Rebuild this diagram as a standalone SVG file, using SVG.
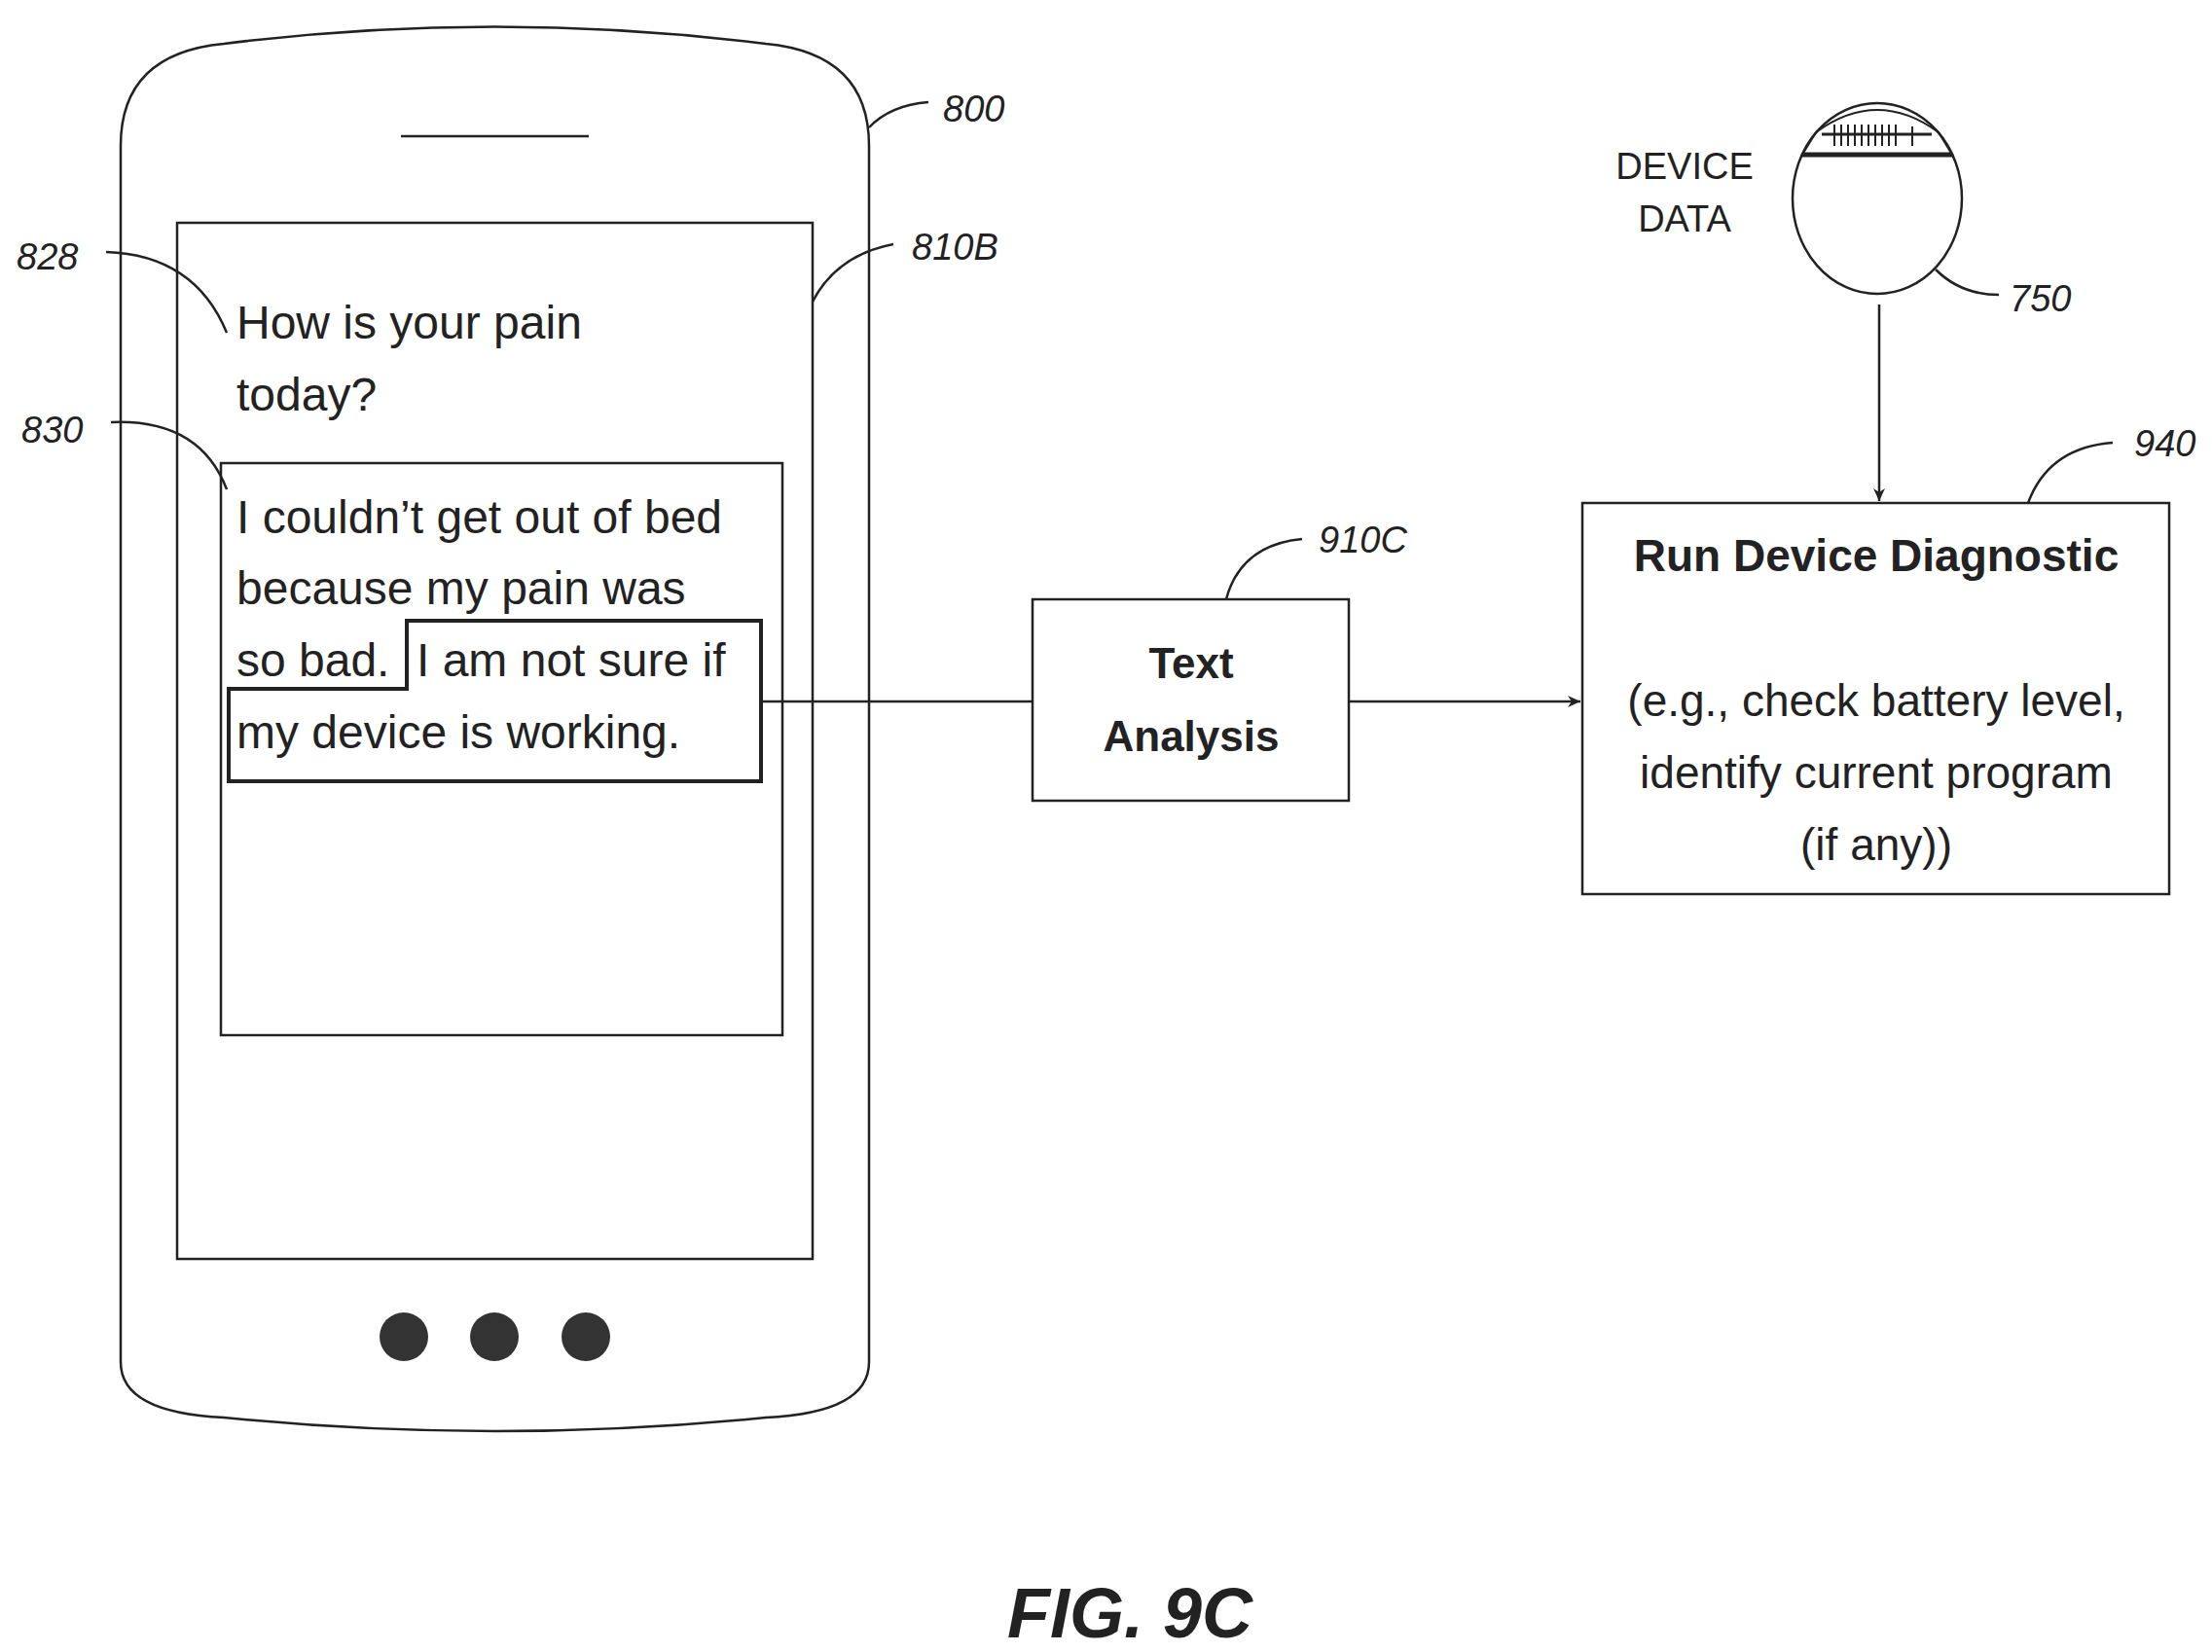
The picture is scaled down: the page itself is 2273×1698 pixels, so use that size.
<svg xmlns="http://www.w3.org/2000/svg" width="2273" height="1698" viewBox="0 0 2273 1698">
<style>
.l{fill:none;stroke:#222;stroke-width:2.5}
.t{font-family:"Liberation Sans",Arial,sans-serif;fill:#222}
.r{font-family:"Liberation Sans",Arial,sans-serif;font-style:italic;font-size:38px;fill:#222}
.b{font-weight:bold}
</style>
<defs><marker id="a" markerWidth="14" markerHeight="14" refX="13" refY="7" orient="auto" markerUnits="userSpaceOnUse"><path d="M0,1 L13,7 L0,13 L4,7 Z" fill="#222"/></marker></defs>
<rect width="2273" height="1698" fill="#fff"/>
<g id="phone800">
<path class="l" d="M124,150 Q124,55 230,45 Q508,10 787,45 Q893,55 893,150 L893,1400 Q893,1452 787,1457 Q508,1485 230,1457 Q124,1452 124,1400 Z"/>
<line class="l" x1="412" y1="140" x2="605" y2="140"/>
<circle cx="415" cy="1374" r="25" fill="#333"/><circle cx="508" cy="1374" r="25" fill="#333"/><circle cx="602" cy="1374" r="25" fill="#333"/>
<text class="r" x="969" y="125">800</text><path class="l" d="M893,131 Q915,108 954,105"/>
</g>
<g id="screen810B">
<rect class="l" x="182" y="229" width="653" height="1065"/>
<text class="r" x="937" y="267">810B</text><path class="l" d="M835,310 Q860,262 918,251"/>
<text class="t" x="243" y="348" font-size="48">How is your pain</text>
<text class="t" x="243" y="422" font-size="48">today?</text>
<text class="r" x="17" y="277">828</text><path class="l" d="M109,259 Q200,262 233,342"/>
</g>
<g id="response830">
<rect class="l" x="227" y="476" width="577" height="588"/>
<text class="t" x="243" y="548" font-size="48">I couldn’t get out of bed</text>
<text class="t" x="243" y="621" font-size="48">because my pain was</text>
<text class="t" x="243" y="695" font-size="48">so bad.</text>
<text class="t" x="428" y="695" font-size="48">I am not sure if</text>
<text class="t" x="243" y="769" font-size="48">my device is working.</text>
<path d="M418,638 L782,638 L782,803 L235,803 L235,708 L418,708 Z" fill="none" stroke="#222" stroke-width="4"/>
<text class="r" x="22" y="455">830</text><path class="l" d="M114,434 Q205,430 233,503"/>
</g>
<g id="text910C">
<rect class="l" x="1061" y="616" width="325" height="207"/>
<text class="t b" x="1224" y="697" font-size="44" text-anchor="middle">Text</text>
<text class="t b" x="1224" y="772" font-size="44" text-anchor="middle">Analysis</text>
<text class="r" x="1355" y="568">910C</text><path class="l" d="M1260,616 Q1275,560 1338,554"/>
</g>
<g id="diag940">
<rect class="l" x="1626" y="517" width="603" height="402"/>
<text class="t b" x="1928" y="587" font-size="46" text-anchor="middle">Run Device Diagnostic</text>
<text class="t" x="1928" y="736" font-size="46" text-anchor="middle">(e.g., check battery level,</text>
<text class="t" x="1928" y="810" font-size="46" text-anchor="middle">identify current program</text>
<text class="t" x="1928" y="884" font-size="46" text-anchor="middle">(if any))</text>
<text class="r" x="2193" y="469">940</text><path class="l" d="M2084,517 Q2105,460 2171,455"/>
</g>
<g id="device750">
<ellipse class="l" cx="1929" cy="204" rx="87" ry="98"/>
<path d="M1866,136 Q1929,90 1992,136 L2006,159 L1852,159 Z" fill="none" stroke="#222" stroke-width="2"/>
<line x1="1852" y1="159" x2="2006" y2="159" stroke="#222" stroke-width="5"/>
<line x1="1872" y1="138" x2="1985" y2="138" stroke="#222" stroke-width="3"/>
<path d="M1885,128 v22 M1892,128 v22 M1899,128 v22 M1906,128 v22 M1913,128 v22 M1920,128 v22 M1927,128 v22 M1934,128 v22 M1941,128 v22 M1948,128 v22 M1965,130 v20" stroke="#222" stroke-width="2"/>
<text class="r" x="2065" y="320">750</text><path class="l" d="M1989,277 Q2015,303 2054,303"/>
<text class="t" x="1731" y="184" font-size="38" text-anchor="middle">DEVICE</text>
<text class="t" x="1731" y="238" font-size="38" text-anchor="middle">DATA</text>
</g>
<g id="connectors">
<line class="l" x1="782" y1="721" x2="1061" y2="721"/>
<line class="l" x1="1386" y1="721" x2="1624" y2="721" marker-end="url(#a)"/>
<line class="l" x1="1931" y1="313" x2="1931" y2="515" marker-end="url(#a)"/>
</g>
<text class="t b" x="1161" y="1683" font-size="72" font-style="italic" text-anchor="middle">FIG. 9C</text>
</svg>
